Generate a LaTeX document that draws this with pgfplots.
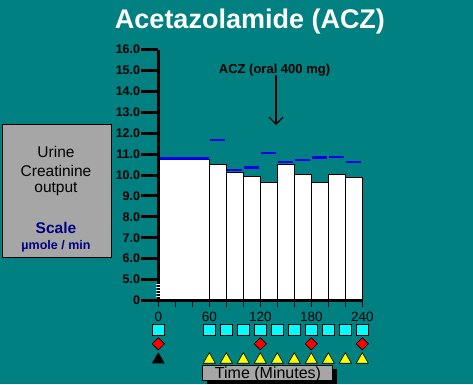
\documentclass[border=0pt]{standalone}
\usepackage{pgfplots}
\pgfplotsset{compat=1.18}
\usepackage{fontspec}
\setmainfont{Liberation Sans}
\usetikzlibrary{arrows.meta}
\definecolor{bgteal}{RGB}{0,128,128}
\definecolor{boxgray}{RGB}{166,166,166}
\definecolor{navytext}{RGB}{0,0,128}
\definecolor{lineblue}{RGB}{0,0,235}
\definecolor{mkcyan}{RGB}{0,255,255}
\definecolor{mkred}{RGB}{255,0,0}
\definecolor{mkyellow}{RGB}{255,255,0}
\begin{document}
\begin{tikzpicture}[x=1pt,y=1pt]
\fill[bgteal] (0,0) rectangle (473,384);
% title
\node[font=\bfseries\fontsize{27}{27}\selectfont, text=white, anchor=base, inner sep=0] at (250,355.7) {Acetazolamide (ACZ)};
% left box
\draw[fill=boxgray, draw=black, line width=0.8pt] (2,127) rectangle (111,260);
\node[font=\fontsize{15.5}{15.5}\selectfont, anchor=base, inner sep=0] at (56,226.7) {Urine};
\node[font=\fontsize{15.5}{15.5}\selectfont, anchor=base, inner sep=0] at (56,208) {Creatinine};
\node[font=\fontsize{15.5}{15.5}\selectfont, anchor=base, inner sep=0] at (56,192) {output};
\node[font=\bfseries\fontsize{15.5}{15.5}\selectfont, text=navytext, anchor=base, inner sep=0] at (56,151) {Scale};
\node[font=\bfseries\fontsize{12.5}{12.5}\selectfont, text=navytext, anchor=base, inner sep=0] at (56,134.5) {µmole / min};
% time box
\fill[black] (206.7,0) rectangle (336.7,15);
\draw[fill=boxgray, draw=black, line width=0.6pt] (202.7,3.3) rectangle (332.7,19);
\node[font=\fontsize{16}{16}\selectfont, anchor=base, inner sep=0] at (268,5.5) {Time (Minutes)};
\begin{axis}[
  at={(158.3pt,83.5pt)}, anchor=south west,
  scale only axis, width=204pt, height=251pt,
  xmin=0, xmax=240, ymin=0, ymax=12,
  clip=false, axis on top,
  axis x line=bottom, axis y line=left,
  axis line style={-, line width=3pt, black},
  tick align=outside,
  ytick={0,1,...,12},
  yticklabels={0,5.0,6.0,7.0,8.0,9.0,10.0,11.0,12.0,13.0,14.0,15.0,16.0},
  major tick length=17pt,
  every major y tick/.append style={line width=3pt, draw=black},
  yticklabel style={font=\bfseries\fontsize{12.5}{12.5}\selectfont, inner sep=1pt},
  xtick={0,60,120,180,240},
  xticklabels={0,60,120,180,240},
  every major x tick/.append style={draw=none},
  minor xtick={0,20,...,240},
  minor tick length=6pt,
  every minor x tick/.append style={line width=1pt, draw=black},
  xticklabel style={font=\fontsize{13.5}{13.5}\selectfont, yshift=9pt},
]
% bars (values in umol/min)
\addplot[ybar interval, fill=white, draw=black, line width=0.8pt, y filter/.expression={y-4}]
  coordinates {(0,10.76) (60,10.51) (80,10.13) (100,9.94) (120,9.65) (140,10.51) (160,10.03) (180,9.65) (200,10.03) (220,9.89) (240,9.89)};
% blue reference lines
\addplot[lineblue, line width=2.5pt, unbounded coords=jump, y filter/.expression={y-4}]
  coordinates {(0,10.79) (60,10.79) (60,nan)
  (61,11.68) (79,11.68) (79,nan)
  (81,10.25) (99,10.25) (99,nan)
  (101,10.35) (119,10.35) (119,nan)
  (121,11.05) (139,11.05) (139,nan)
  (141,10.62) (159,10.62) (159,nan)
  (161,10.71) (179,10.71) (179,nan)
  (181,10.83) (199,10.83) (199,nan)
  (201,10.87) (219,10.87) (219,nan)
  (221,10.62) (239,10.62)};
% sample markers below the axis
\addplot[only marks, mark=square*, mark size=5.7pt, mark options={fill=mkcyan, draw=black, line width=0.6pt}]
  coordinates {(0,-1.41) (60,-1.41) (80,-1.41) (100,-1.41) (120,-1.41) (140,-1.41) (160,-1.41) (180,-1.41) (200,-1.41) (220,-1.41) (240,-1.41)};
\addplot[only marks, mark=square*, mark size=4.3pt, mark options={rotate=45, fill=mkred, draw=black, line width=0.6pt}]
  coordinates {(0,-2.07) (120,-2.07) (180,-2.07) (240,-2.07)};
\addplot[only marks, mark=triangle*, mark size=7pt, mark options={fill=black, draw=black}]
  coordinates {(0,-2.83)};
\addplot[only marks, mark=triangle*, mark size=7pt, mark options={fill=mkyellow, draw=black, line width=0.6pt}]
  coordinates {(60,-2.83) (80,-2.83) (100,-2.83) (120,-2.83) (140,-2.83) (160,-2.83) (180,-2.83) (200,-2.83) (220,-2.83) (240,-2.83)};
\end{axis}
% axis break marks
\foreach \yy in {88,91,94,97,100} {\draw[white, line width=0.7pt] (155.5,\yy) -- (159.5,\yy);}
% annotation
\node[font=\bfseries\fontsize{13}{13}\selectfont, anchor=base, inner sep=0] at (274.5,311) {ACZ (oral 400 mg)};
\draw[line width=1.2pt, -{Straight Barb[length=7pt,width=14pt,line width=1.2pt]}] (276,309) -- (276,259);
\pgfresetboundingbox
\useasboundingbox (0,0) rectangle (473,384);
\end{tikzpicture}
\end{document}
